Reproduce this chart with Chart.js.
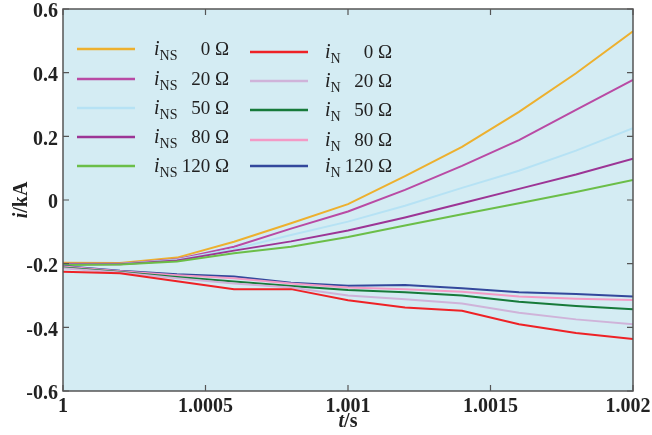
<!DOCTYPE html>
<html>
<head>
<meta charset="utf-8">
<script src="https://cdn.jsdelivr.net/npm/chart.js@4.4.0/dist/chart.umd.min.js"></script>
<style>
  html, body { margin: 0; padding: 0; background: #fff; }
  #wrap { width: 652px; height: 435px; }
</style>
</head>
<body>
<div id="wrap"><canvas id="chart" width="652" height="435"></canvas></div>
<script>
// time samples (s)
const times = [1, 1.0002, 1.0004, 1.0006, 1.0008, 1.001, 1.0012, 1.0014, 1.0016, 1.0018, 1.002];

// i_NS for each transition resistance (kA)
const ins0   = [-0.197, -0.198, -0.181, -0.131, -0.073, -0.013, 0.075, 0.167, 0.277, 0.398, 0.530];
const ins20  = [-0.200, -0.200, -0.186, -0.147, -0.090, -0.036, 0.032, 0.107, 0.188, 0.283, 0.377];
const ins50  = [-0.201, -0.201, -0.188, -0.154, -0.110, -0.068, -0.018, 0.038, 0.092, 0.155, 0.226];
const ins80  = [-0.202, -0.202, -0.190, -0.159, -0.130, -0.096, -0.055, -0.010, 0.035, 0.080, 0.130];
const ins120 = [-0.204, -0.203, -0.193, -0.167, -0.147, -0.116, -0.080, -0.045, -0.010, 0.025, 0.063];

// i_N for each transition resistance (kA)
const in0   = [-0.225, -0.230, -0.255, -0.280, -0.280, -0.315, -0.338, -0.348, -0.390, -0.418, -0.437];
const in20  = [-0.214, -0.228, -0.246, -0.262, -0.275, -0.300, -0.312, -0.325, -0.354, -0.375, -0.390];
const in50  = [-0.212, -0.226, -0.242, -0.256, -0.270, -0.283, -0.290, -0.300, -0.320, -0.333, -0.343];
const in80  = [-0.209, -0.224, -0.236, -0.246, -0.262, -0.275, -0.280, -0.288, -0.303, -0.310, -0.314];
const in120 = [-0.207, -0.222, -0.233, -0.240, -0.260, -0.269, -0.267, -0.277, -0.290, -0.295, -0.303];

const xTicks = [1, 1.0005, 1.001, 1.0015, 1.002];
const xTickLabels = ['1', '1.0005', '1.001', '1.0015', '1.002'];
const yTicks = [-0.6, -0.4, -0.2, 0, 0.2, 0.4, 0.6];
const yTickLabels = ['-0.6', '-0.4', '-0.2', '0', '0.2', '0.4', '0.6'];

const seriesNames = ['NS', 'NS', 'NS', 'NS', 'NS', 'N', 'N', 'N', 'N', 'N'];
const ohms = ['0 Ω', '20 Ω', '50 Ω', '80 Ω', '120 Ω', '0 Ω', '20 Ω', '50 Ω', '80 Ω', '120 Ω'];
const seriesData = [ins0, ins20, ins50, ins80, ins120, in0, in20, in50, in80, in120];
const colors = ['#EDB02E', '#B94AA4', '#B6E2F4', '#9C3595', '#6BBE48',
                '#EE2226', '#CFB3D9', '#177A3A', '#F39AC5', '#33489C'];

const serif = '"Liberation Serif", "Times New Roman", serif';

// draw order: iN first so iNS lies on top near the start
const drawOrder = [5, 6, 7, 8, 9, 4, 3, 2, 1, 0];

const datasets = drawOrder.map(i => ({
    label: 'i' + seriesNames[i] + ' ' + ohms[i],
    data: times.map((t, k) => ({ x: t, y: seriesData[i][k] })),
    borderColor: colors[i],
    backgroundColor: colors[i],
    borderWidth: 2,
    pointRadius: 0,
    tension: 0,
    fill: false
}));

const frame = {
    id: 'frame',
    beforeDraw(chart) {
        const { ctx, chartArea: a } = chart;
        ctx.save();
        ctx.fillStyle = '#D4ECF3';
        ctx.fillRect(a.left, a.top, a.right - a.left, a.bottom - a.top);
        ctx.restore();
    },
    afterDraw(chart) {
        const { ctx, chartArea: a, scales } = chart;
        ctx.save();
        ctx.strokeStyle = '#555';
        ctx.lineWidth = 1.5;
        ctx.strokeRect(a.left, a.top, a.right - a.left, a.bottom - a.top);
        ctx.lineWidth = 1.2;
        ctx.beginPath();
        yTicks.forEach(v => {
            const y = scales.y.getPixelForValue(v);
            ctx.moveTo(a.left, y); ctx.lineTo(a.left + 6, y);
            ctx.moveTo(a.right, y); ctx.lineTo(a.right - 6, y);
        });
        xTicks.forEach(v => {
            const x = scales.x.getPixelForValue(v);
            ctx.moveTo(x, a.bottom); ctx.lineTo(x, a.bottom - 6);
            ctx.moveTo(x, a.top); ctx.lineTo(x, a.top + 6);
        });
        ctx.stroke();

        // axis titles
        ctx.fillStyle = '#222';
        ctx.textBaseline = 'middle';
        // x title: t/s
        ctx.font = 'italic bold 20px ' + serif;
        const tW = ctx.measureText('t').width;
        ctx.font = 'bold 20px ' + serif;
        const sW = ctx.measureText('/s').width;
        let x0 = (a.left + a.right) / 2 - (tW + sW) / 2;
        ctx.font = 'italic bold 20px ' + serif;
        ctx.textAlign = 'left';
        ctx.fillText('t', x0, 422);
        ctx.font = 'bold 20px ' + serif;
        ctx.fillText('/s', x0 + tW, 422);
        // y title: i/kA
        ctx.translate(22, (a.top + a.bottom) / 2);
        ctx.rotate(-Math.PI / 2);
        ctx.font = 'italic bold 20px ' + serif;
        const iW = ctx.measureText('i').width;
        ctx.font = 'bold 20px ' + serif;
        const kW = ctx.measureText('/kA').width;
        x0 = -(iW + kW) / 2;
        ctx.font = 'italic bold 20px ' + serif;
        ctx.fillText('i', x0, 0);
        ctx.font = 'bold 20px ' + serif;
        ctx.fillText('/kA', x0 + iW, 0);
        ctx.restore();
    }
};

const legendBox = {
    id: 'legendBox',
    afterDatasetsDraw(chart) {
        const ctx = chart.ctx;
        const cols = [
            { lx0: 77, lx1: 135, tx: 154, rx: 229, rows: [49, 79, 108, 137, 166] },
            { lx0: 250, lx1: 308, tx: 325, rx: 392, rows: [52, 81, 110, 140, 166] }
        ];
        ctx.save();
        for (let i = 0; i < 10; i++) {
            const c = cols[i < 5 ? 0 : 1];
            const y = c.rows[i % 5];
            ctx.strokeStyle = colors[i];
            ctx.lineWidth = 2.5;
            ctx.beginPath();
            ctx.moveTo(c.lx0, y);
            ctx.lineTo(c.lx1, y);
            ctx.stroke();
            ctx.fillStyle = '#222';
            ctx.textBaseline = 'middle';
            ctx.textAlign = 'left';
            ctx.font = 'italic 20px ' + serif;
            ctx.fillText('i', c.tx, y + 1);
            const iw = ctx.measureText('i').width;
            ctx.font = '14px ' + serif;
            ctx.fillText(seriesNames[i], c.tx + iw, y + 7);
            ctx.font = '19px ' + serif;
            ctx.textAlign = 'right';
            ctx.fillText(ohms[i], c.rx, y + 1);
        }
        ctx.restore();
    }
};

new Chart(document.getElementById('chart'), {
    type: 'line',
    data: { datasets: datasets },
    options: {
        responsive: false,
        animation: false,
        layout: { padding: { top: 9, right: 19, left: 0, bottom: 0 } },
        plugins: { legend: { display: false }, tooltip: { enabled: false } },
        scales: {
            x: {
                type: 'linear',
                min: 1,
                max: 1.002,
                afterBuildTicks: s => { s.ticks = xTicks.map(v => ({ value: v })); },
                afterFit: s => { s.height = 44; s.paddingLeft = 0; s.paddingRight = 0; },
                grid: { display: false, drawTicks: false },
                border: { display: false },
                ticks: {
                    padding: 4,
                    color: '#222',
                    maxRotation: 0,
                    autoSkip: false,
                    font: { family: serif, size: 20, weight: 'bold' },
                    // last label sits a bit left of its tick, as in the figure
                    callback: (v, i) => i === xTicks.length - 1 ? xTickLabels[i] + '\u2002' : xTickLabels[i]
                }
            },
            y: {
                type: 'linear',
                min: -0.6,
                max: 0.6,
                afterBuildTicks: s => { s.ticks = yTicks.map(v => ({ value: v })); },
                afterFit: s => { s.width = 63; s.paddingTop = 0; s.paddingBottom = 0; },
                grid: { display: false, drawTicks: false },
                border: { display: false },
                ticks: {
                    padding: 5,
                    labelOffset: 3,
                    color: '#222',
                    autoSkip: false,
                    font: { family: serif, size: 20, weight: 'bold' },
                    callback: (v, i) => yTickLabels[i]
                }
            }
        }
    },
    plugins: [frame, legendBox]
});
</script>
</body>
</html>
